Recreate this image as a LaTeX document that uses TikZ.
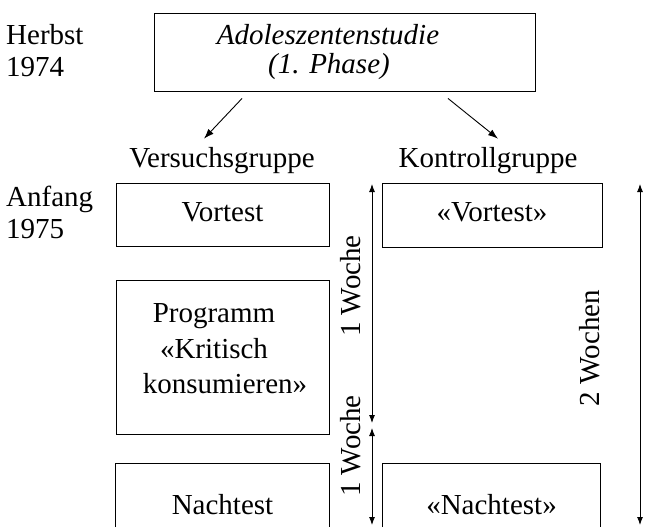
\documentclass[tikz,border=0pt]{standalone}
\usepackage{fontspec}
\setmainfont{Liberation Serif}
\usetikzlibrary{arrows.meta}
\begin{document}
\begin{tikzpicture}[x=1pt,y=-1pt,
  txt/.style={font=\fontsize{29}{34}\selectfont, inner sep=0pt},
  box/.style={draw, line width=0.9pt, inner sep=0pt},
  openbox/.style={inner sep=0pt},
  arr/.style={line width=0.9pt, -{Latex[length=10pt,width=7pt]}},
  dbl/.style={line width=0.9pt, {Latex[length=8pt,width=6pt]}-{Latex[length=8pt,width=6pt]}}
]
\useasboundingbox (0,0) rectangle (647,527);

% left time labels
\node[txt, anchor=base west] (herbst) at (6,45) {Herbst};
\node[txt, anchor=base west] (y1974) at (6,76) {1974};
\node[txt, anchor=base west] (anfang) at (6,206) {Anfang};
\node[txt, anchor=base west] (y1975) at (6,238) {1975};

% top box
\node[box, minimum width=381pt, minimum height=78pt] (top) at (344.5,52) {};
\node[txt, anchor=base, font=\fontsize{29}{34}\selectfont\itshape] (ado) at (328,45) {Adoleszentenstudie};
\node[txt, anchor=base, font=\fontsize{29}{34}\selectfont\itshape] (phase) at (329,73) {(1. Phase)};

% group labels
\node[txt, anchor=base] (vg) at (222,167) {Versuchsgruppe};
\node[txt, anchor=base] (kg) at (488,167) {Kontrollgruppe};

% arrows from top box
\path (top.south) ++(-102.5,7) coordinate (a1s);
\path (vg.north) ++(-18,-8) coordinate (a1e);
\path (top.south) ++(103.5,7) coordinate (a2s);
\path (kg.north) ++(10,-8) coordinate (a2e);
\draw[arr] (a1s) -- (a1e);
\draw[arr] (a2s) -- (a2e);

% Versuchsgruppe column
\node[box, minimum width=213pt, minimum height=63pt] (vt) at (222.5,214.5) {};
\node[txt, anchor=base] (vtt) at (222.5,221) {Vortest};

\node[box, minimum width=213pt, minimum height=154pt] (prog) at (222.5,357) {};
\node[txt, anchor=base] (p1) at (214,322) {Programm};
\node[txt, anchor=base] (p2) at (214,358) {«Kritisch};
\node[txt, anchor=base] (p3) at (225,393) {konsumieren»};

\node[openbox, minimum width=213pt, minimum height=63pt] (nt) at (222.5,495.5) {};
\draw[line width=0.9pt] (nt.south west) -- (nt.north west) -- (nt.north east) -- (nt.south east);
\node[txt, anchor=base] (ntt) at (222.5,514) {Nachtest};

% Kontrollgruppe column
\node[box, minimum width=220pt, minimum height=64pt] (kvt) at (492,215) {};
\node[txt, anchor=base] (kvtt) at (492,221) {«Vortest»};

\node[openbox, minimum width=217pt, minimum height=63pt] (knt) at (491.5,495.5) {};
\draw[line width=0.9pt] (knt.south west) -- (knt.north west) -- (knt.north east) -- (knt.south east);
\node[txt, anchor=base] (kntt) at (491.5,514) {«Nachtest»};

% duration arrows
\coordinate (w1t) at (372,184);
\coordinate (w1b) at (372,423);
\coordinate (w2t) at (372,428);
\coordinate (w2b) at (372,525);
\coordinate (w3t) at (640,184);
\coordinate (w3b) at (640,525);
\draw[dbl] (w1t) -- (w1b);
\draw[dbl] (w2t) -- (w2b);
\draw[dbl] (w3t) -- (w3b);
\node[txt, rotate=90] (l1) at (351,286) {1 Woche};
\node[txt, rotate=90] (l2) at (351,446) {1 Woche};
\node[txt, rotate=90] (l3) at (590,348) {2 Wochen};
\end{tikzpicture}
\end{document}
